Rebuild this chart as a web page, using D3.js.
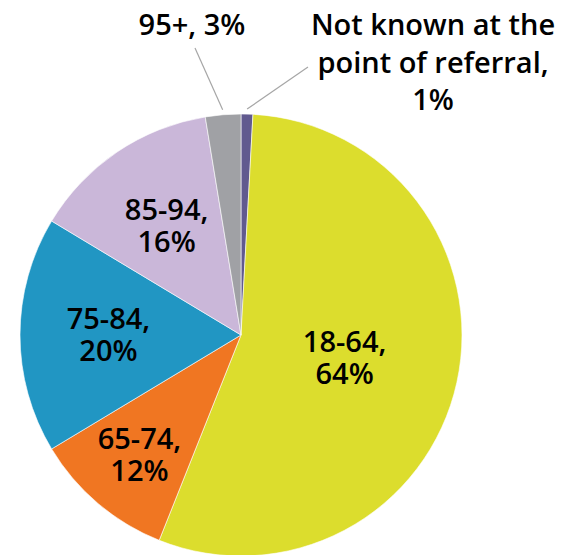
<!DOCTYPE html>
<html>
<head>
<meta charset="utf-8">
<script src="https://cdn.jsdelivr.net/npm/d3@7"></script>
<style>
  html, body { margin: 0; padding: 0; background: #fff; }
  svg { display: block; }
  text { font-family: "Open Sans", "Noto Sans", sans-serif; font-weight: 600; fill: #000; }
</style>
</head>
<body>
<svg id="chart" width="562" height="555"></svg>
<script>
// Referrals by age group
const categories = ["Not known at the point of referral", "18-64", "65-74", "75-84", "85-94", "95+"];
const values = [1, 64, 12, 20, 16, 3];
const colors = ["#615a8f", "#dcdd2d", "#f07622", "#2196c3", "#cab7d9", "#a0a1a5"];

const width = 562, height = 555;
const cx = 241, cy = 335, R = 221;

const svg = d3.select("#chart");
const g = svg.append("g").attr("transform", `translate(${cx},${cy})`);

const pie = d3.pie().sort(null).value(d => d.value).startAngle(0).endAngle(2 * Math.PI);
const arcs = pie(categories.map((c, i) => ({ cat: c, value: values[i], color: colors[i] })));

const arc = d3.arc().innerRadius(0).outerRadius(R);

g.selectAll("path.slice")
  .data(arcs)
  .join("path")
  .attr("class", "slice")
  .attr("d", arc)
  .attr("fill", d => d.data.color)
  .attr("stroke", "#fff")
  .attr("stroke-width", 0.6);

const midAngle = d => (d.startAngle + d.endAngle) / 2;
const polar = (a, r) => [r * Math.sin(a), -r * Math.cos(a)];

// Labels inside the larger slices; narrow slices push the label outward
const fontSize = 29;
const inner = arcs.filter(d => (d.endAngle - d.startAngle) > 0.3);
inner.forEach(d => {
  const span = d.endAngle - d.startAngle;
  const rf = span > Math.PI ? 0.48 : (span < 0.8 ? 0.71 : 0.6);
  const [x, y] = polar(midAngle(d), R * rf);
  const lines = [d.data.cat + ",", d.data.value + "%"];
  const lh = 32;
  const t = g.append("text")
    .attr("text-anchor", "middle")
    .attr("font-size", fontSize);
  lines.forEach((ln, i) => {
    t.append("tspan")
      .attr("x", x)
      .attr("y", y + (i - (lines.length - 1) / 2) * lh + fontSize * 0.36)
      .text(ln);
  });
});

// Labels outside the small slices, with leader lines
const outside = [
  { idx: 5, lines: [categories[5] + ", " + values[5] + "%"], x: 192, y: 35, lx: 195, ly: 48, lh: 37 },
  { idx: 0, lines: ["Not known at the", "point of referral,", values[0] + "%"], x: 433, y: 35, lx: 308, ly: 67, lh: 37.5 }
];

outside.forEach(o => {
  const d = arcs[o.idx];
  const [ex, ey] = polar(midAngle(d), R + 5);
  svg.append("line")
    .attr("x1", o.lx).attr("y1", o.ly)
    .attr("x2", cx + ex).attr("y2", cy + ey)
    .attr("stroke", "#a6a6a6")
    .attr("stroke-width", 1.2);
  const t = svg.append("text")
    .attr("text-anchor", "middle")
    .attr("font-size", fontSize);
  o.lines.forEach((ln, i) => {
    t.append("tspan").attr("x", o.x).attr("y", o.y + i * o.lh).text(ln);
  });
});
</script>
</body>
</html>
